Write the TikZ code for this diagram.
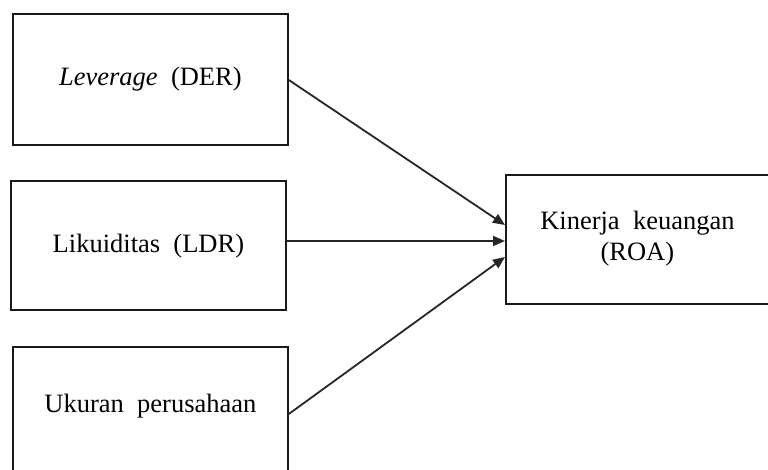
\documentclass[tikz,border=0pt]{standalone}
\usepackage{fontspec}
\setmainfont{Liberation Serif}
\usetikzlibrary{arrows.meta}
\begin{document}
\begin{tikzpicture}[x=1pt,y=-1pt,
  box/.style={draw=black!90, line width=1.8pt, rectangle, inner sep=0pt},
  lbl/.style={font=\fontsize{26.5}{31}\selectfont, align=center, text=black},
  conn/.style={draw=black!85, line width=1.8pt, -{Triangle[length=12pt,width=10pt]}}]
\useasboundingbox (0,0) rectangle (768,469);
\clip (0,0) rectangle (768,469);
\node[box, minimum width=275pt, minimum height=131pt, anchor=north west] (b1) at (12,13) {};
\node[lbl] (t1) at (b1.center) {\textit{Leverage}\ \ (DER)};
\node[box, minimum width=275pt, minimum height=129pt, anchor=north west] (b2) at (10,180) {};
\node[lbl] (t2) at ([yshift=-0.5pt]b2.center) {Likuiditas\ \ (LDR)};
\node[box, minimum width=275pt, minimum height=131pt, anchor=north west] (b3) at (12,346) {};
\node[lbl] (t3) at ([yshift=6pt]b3.center) {Ukuran\ \ perusahaan};
\node[box, minimum width=263pt, minimum height=129pt, anchor=north west] (r) at (505,174) {};
\node[lbl] (tr) at ([yshift=1pt]r.center) {Kinerja\ \ keuangan\\(ROA)};
\coordinate (e1) at (b1.east |- 0,80);
\coordinate (e2) at (b2.east |- 0,241);
\coordinate (e3) at (b3.east |- 0,414);
\coordinate (a1) at (r.west |- 0,225);
\coordinate (a2) at (r.west |- 0,241);
\coordinate (a3) at (r.west |- 0,257);
\draw[conn] (e1) -- (a1);
\draw[conn] (e2) -- (a2);
\draw[conn] (e3) -- (a3);
\end{tikzpicture}
\end{document}
